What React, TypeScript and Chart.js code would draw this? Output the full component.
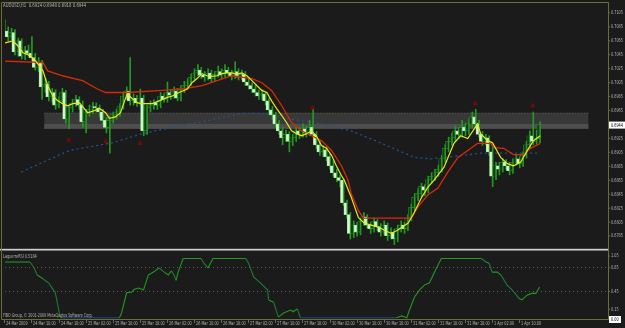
import { useEffect, useRef } from "react";
import { Chart, registerables } from "chart.js";

Chart.register(...registerables);

// ---------- DATA (prices in pips: 6944 = 0.6944) ----------
const opens = [
  7086, 7078, 7070, 7076, 7048, 7064, 7042, 7050, 7046, 7040, 7026, 7032, 6998, 7002, 6984, 6990,
  6972, 6978, 6990, 6952, 6968, 6975, 6980, 6972, 6948, 6962, 6966, 6970, 6968, 6962, 6950, 6940,
  6950, 6958, 6962, 6970, 6985, 6992, 6978, 6982, 6975, 6982, 6935, 6968, 6972, 6975, 6972, 6985,
  6980, 6990, 6986, 6992, 6982, 6995, 7000, 7005, 7012, 7018, 7022, 7015, 7012, 7018, 7010, 7016,
  7020, 7015, 7022, 7018, 7014, 7020, 7012, 7016, 7005, 7000, 6995, 6990, 6985, 6988, 6978, 6965,
  6958, 6945, 6935, 6925, 6930, 6920, 6925, 6935, 6930, 6938, 6932, 6940, 6930, 6915, 6905, 6908,
  6898, 6885, 6875, 6868, 6864, 6832, 6815, 6788, 6800, 6790, 6805, 6812, 6800, 6795, 6805, 6798,
  6790, 6800, 6785, 6790, 6780, 6795, 6800, 6795, 6810, 6825, 6840, 6845, 6855, 6850, 6865, 6870,
  6875, 6880, 6895, 6910, 6920, 6925, 6935, 6930, 6940, 6935, 6945, 6955, 6945, 6930, 6920, 6925,
  6905, 6870, 6885, 6880, 6890, 6885, 6878, 6890, 6895, 6888, 6900, 6915, 6928, 6920, 6924,
];
const highs = [
  7094, 7084, 7082, 7080, 7068, 7067, 7056, 7058, 7070, 7046, 7040, 7036, 7010, 7006, 6996, 6994,
  6984, 6996, 6993, 6972, 6980, 6986, 6984, 6978, 6966, 6972, 6976, 6975, 6972, 6966, 6954, 6956,
  6962, 6966, 6974, 6990, 6998, 7040, 6988, 6986, 6995, 6986, 6972, 6978, 6980, 6978, 6990, 6988,
  7005, 6994, 6998, 6996, 7000, 7006, 7010, 7016, 7024, 7030, 7026, 7020, 7024, 7022, 7020, 7028,
  7024, 7030, 7026, 7022, 7034, 7024, 7022, 7020, 7010, 7004, 7000, 6994, 6994, 6990, 6982, 6970,
  6962, 6950, 6940, 6936, 6934, 6930, 6942, 6940, 6945, 6942, 6950, 6966, 6934, 6920, 6914, 6912,
  6902, 6892, 6880, 6872, 6866, 6836, 6818, 6806, 6804, 6810, 6818, 6815, 6804, 6810, 6808, 6802,
  6806, 6803, 6796, 6794, 6800, 6806, 6804, 6815, 6830, 6845, 6852, 6860, 6858, 6870, 6875, 6880,
  6886, 6900, 6915, 6926, 6932, 6942, 6940, 6950, 6946, 6952, 6962, 6966, 6950, 6934, 6930, 6928,
  6915, 6890, 6890, 6895, 6894, 6890, 6895, 6900, 6898, 6905, 6920, 6935, 6962, 6936, 6948,
];
const lows = [
  7072, 7064, 7066, 7044, 7042, 7038, 7037, 7042, 7036, 7022, 7020, 6980, 6990, 6978, 6976, 6966,
  6968, 6974, 6946, 6938, 6962, 6970, 6966, 6940, 6932, 6956, 6960, 6962, 6955, 6944, 6932, 6903,
  6946, 6952, 6956, 6966, 6980, 6972, 6972, 6970, 6972, 6928, 6930, 6962, 6966, 6966, 6968, 6976,
  6976, 6980, 6982, 6978, 6978, 6990, 6995, 7000, 7008, 7014, 7010, 7006, 7008, 7004, 7006, 7012,
  7010, 7012, 7014, 7008, 7010, 7008, 7008, 7000, 6995, 6990, 6985, 6980, 6980, 6972, 6960, 6952,
  6940, 6930, 6915, 6920, 6905, 6914, 6920, 6924, 6926, 6926, 6928, 6926, 6910, 6900, 6898, 6892,
  6880, 6870, 6862, 6855, 6828, 6810, 6780, 6782, 6784, 6786, 6800, 6796, 6788, 6790, 6792, 6784,
  6786, 6778, 6780, 6772, 6776, 6790, 6788, 6792, 6806, 6820, 6835, 6840, 6842, 6846, 6860, 6864,
  6870, 6876, 6890, 6905, 6914, 6920, 6924, 6926, 6928, 6930, 6940, 6940, 6926, 6914, 6915, 6900,
  6855, 6865, 6872, 6876, 6880, 6872, 6874, 6886, 6882, 6884, 6896, 6910, 6915, 6916, 6918,
];
const closes = [
  7078, 7070, 7076, 7048, 7064, 7042, 7050, 7046, 7040, 7026, 7032, 6998, 7002, 6984, 6990, 6972,
  6978, 6990, 6952, 6968, 6975, 6980, 6972, 6948, 6962, 6966, 6970, 6968, 6962, 6950, 6940, 6950,
  6958, 6962, 6970, 6985, 6992, 6978, 6982, 6975, 6982, 6935, 6968, 6972, 6975, 6972, 6985, 6980,
  6990, 6986, 6992, 6982, 6995, 7000, 7005, 7012, 7018, 7022, 7015, 7012, 7018, 7010, 7016, 7020,
  7015, 7022, 7018, 7014, 7020, 7012, 7016, 7005, 7000, 6995, 6990, 6985, 6988, 6978, 6965, 6958,
  6945, 6935, 6925, 6930, 6920, 6925, 6935, 6930, 6938, 6932, 6940, 6930, 6915, 6905, 6908, 6898,
  6885, 6875, 6868, 6864, 6832, 6815, 6788, 6800, 6790, 6805, 6812, 6800, 6795, 6805, 6798, 6790,
  6800, 6785, 6790, 6780, 6795, 6800, 6795, 6810, 6825, 6840, 6845, 6855, 6850, 6865, 6870, 6875,
  6880, 6895, 6910, 6920, 6925, 6935, 6930, 6940, 6935, 6945, 6955, 6945, 6930, 6920, 6925, 6905,
  6870, 6885, 6880, 6890, 6885, 6878, 6890, 6895, 6888, 6900, 6915, 6928, 6920, 6924, 6944,
];

// fast MA (yellow), read as knots: bar index / price
const yellowBars = [0, 2.5, 4, 5.5, 7.5, 9.3, 11.4, 12.8, 14.3, 15.8, 17.2, 18.7, 20.2, 22.2, 24.6, 26.6, 28.1, 29.9, 31, 32.8, 34.3, 35.5, 36.3, 37.8, 39.3, 40.7, 43.7, 45.7, 48.1, 49.6, 51.6, 54, 55.4, 56.9, 58.4, 59.8, 61.3, 62.8, 64.2, 65.7, 67.2, 68.6, 70.1, 71.6, 73.1, 74.5, 76, 77.5, 78.9, 80.4, 81.9, 83.3, 84.8, 86.3, 87.7, 89.2, 90.7, 92.1, 93.6, 95.1, 96.6, 98, 99.5, 100.4, 102.4, 104.5, 106.2, 108.3, 110.4, 112.1, 114.2, 116.2, 119.2, 120.9, 123, 125, 126.8, 129.8, 132.7, 134.7, 136.8, 139.7, 140.6, 142.7, 144.1, 146.5, 148.5, 150.3, 152.4, 154.4, 156.2, 158.2];
const yellowVals = [7061, 7064, 7057, 7047, 7043, 7035, 7021, 7000, 6985, 6978, 6974, 6971, 6974, 6975, 6961, 6964, 6967, 6961, 6953, 6955, 6961, 6978, 6988, 6981, 6975, 6974, 6974, 6978, 6983, 6985, 6990, 6995, 7004, 7010, 7017, 7014, 7013, 7014, 7017, 7018, 7018, 7016, 7018, 7014, 7007, 7000, 6993, 6990, 6978, 6967, 6957, 6947, 6935, 6931, 6928, 6931, 6935, 6928, 6914, 6910, 6900, 6885, 6871, 6864, 6840, 6811, 6803, 6800, 6797, 6793, 6788, 6793, 6803, 6817, 6838, 6854, 6864, 6883, 6917, 6928, 6924, 6945, 6931, 6921, 6918, 6897, 6888, 6885, 6890, 6907, 6921, 6928];

// slow line (red)
const redBars = [0, 11.4, 12.8, 17.2, 23.1, 27.5, 29.9, 36.3, 46.6, 52.5, 58.4, 62.8, 67.2, 73.1, 76, 78.9, 81.9, 84.8, 87.7, 90.7, 93.6, 96.6, 99.5, 101.5, 102.4, 104.5, 106, 120.1, 122.1, 125, 128, 130.9, 133.9, 136.8, 139.7, 143.6, 144.4, 147.4, 150.3, 153.3, 155.3, 158.2];
const redVals = [7035, 7033, 7021, 7014, 7007, 6995, 6990, 6990, 6993, 6995, 7000, 7007, 7014, 7010, 7004, 6993, 6971, 6947, 6935, 6928, 6921, 6907, 6885, 6864, 6845, 6821, 6810, 6810, 6826, 6843, 6853, 6876, 6897, 6907, 6917, 6917, 6911, 6910, 6901, 6901, 6910, 6917];

// long MA (blue dotted)
const blueBars = [5, 11.4, 19.3, 32, 40.7, 54.5, 58.4, 70, 76, 82, 93.6, 102.4, 111, 121, 126, 135.6, 140.6, 158];
const blueVals = [6876, 6890, 6907, 6918, 6931, 6945, 6948, 6960, 6960, 6954, 6945, 6935, 6918, 6897, 6895, 6900, 6903, 6903];

// fractal arrows
const fractalBars = [19, 30, 40, 91, 139, 156];
const fractalVals = [6922, 6920, 6917, 6968, 6974, 6971];

// resistance zone
const zoneBars = [11.8, 172.4];
const zoneTop = 6961;
const zoneBottom = 6938;
const zoneStrip = 6945;

// Laguerre indicator knots
const lagBars = [0, 7.6, 8.8, 9.7, 11.1, 13.2, 14.1, 15, 15.5, 16.4, 17, 34, 34.6, 36.1, 37.5, 38.4, 39.6, 41.1, 42.5, 44, 45.7, 47.2, 48.4, 49.3, 50.1, 50.7, 51.3, 52.8, 58.1, 58.9, 60.1, 61.6, 71.3, 72.1, 73.6, 75.7, 77.7, 78, 79.5, 80.9, 82.4, 84.5, 85.3, 86.5, 87.4, 115.8, 117.3, 118.8, 119.6, 121.1, 122.6, 124, 125.5, 127, 129, 140.8, 142.2, 143.1, 144, 145.5, 146.6, 148.4, 149.9, 151.9, 152.8, 154.3, 155.7, 156.9, 158];
const lagVals = [0.94, 0.94, 0.84, 0.72, 0.67, 0.58, 0.5, 0.43, 0.3, 0.02, 0, 0, 0.08, 0.42, 0.43, 0.48, 0.5, 0.47, 0.72, 0.77, 0.84, 0.77, 0.72, 0.79, 0.72, 0.63, 0.77, 1, 1, 0.92, 0.84, 1, 1, 0.92, 0.69, 0.58, 0.47, 0.3, 0.26, 0.01, 0.08, 0.13, 0.1, 0.15, 0, 0, 0.03, 0, 0.13, 0.35, 0.47, 0.55, 0.59, 0.77, 1, 1, 0.94, 0.92, 0.77, 0.77, 0.72, 0.55, 0.47, 0.33, 0.3, 0.38, 0.41, 0.41, 0.52];
const lagLevels = [0.85, 0.45];

// axis texts
const timeLabels = [
  "24 Mar 2009", "24 Mar 10:00", "24 Mar 18:00", "25 Mar 02:00", "25 Mar 10:00", "25 Mar 18:00",
  "26 Mar 02:00", "26 Mar 10:00", "26 Mar 18:00", "27 Mar 02:00", "27 Mar 10:00", "27 Mar 18:00",
  "30 Mar 02:00", "30 Mar 10:00", "30 Mar 18:00", "31 Mar 02:00", "31 Mar 10:00", "31 Mar 18:00",
  "1 Apr 02:00", "1 Apr 10:00",
];
const barsPerLabel = 8;
const priceTicks = [7105, 7085, 7065, 7045, 7025, 7005, 6985, 6965, 6925, 6905, 6885, 6865, 6845, 6825, 6805, 6785];
const lastPrice = 6944;
const lagTicks = [1.05, 0.85, 0.45, 0.15];
const lagTickLabels = ["1.05", "0.85", "0.45", "0.15"];
const lagLastLabel = "0.00";
const titleText = "AUDUSD,H1  0.6924 0.6948 0.6918 0.6944";
const indicatorText = "LaguerreRSI 0.5184";
const copyrightText = "FIBO Group, \u00a9 2001-2009 MetaQuotes Software Corp.";

// ---------- STYLE ----------
const BG = "#1b1b1b";
const FRAME = "#6d6d3c";
const TEXT = "#b4b4b4";
const FONT = "DejaVu Sans";

const fmt = (p: number) => (p / 10000).toFixed(4);

function squeezeText(ctx: CanvasRenderingContext2D, s: string, x: number, y: number, size: number, sx: number, color: string) {
  ctx.save();
  ctx.translate(x, y);
  ctx.scale(sx, 1);
  ctx.font = `${size}px "${FONT}"`;
  ctx.fillStyle = color;
  ctx.textBaseline = "middle";
  ctx.fillText(s, 0, 0);
  ctx.restore();
}

const mt4Plugin = {
  id: "mt4",
  beforeDraw(chart: any) {
    const { ctx, width, height } = chart;
    ctx.save();
    ctx.fillStyle = BG;
    ctx.fillRect(0, 0, width, height);
    ctx.restore();
  },
  beforeDatasetsDraw(chart: any) {
    const { ctx } = chart;
    const x = chart.scales.x;
    const y = chart.scales.y;
    const x0 = x.getPixelForValue(zoneBars[0]);
    const x1 = x.getPixelForValue(zoneBars[1]);
    const yt = y.getPixelForValue(zoneTop);
    const yb = y.getPixelForValue(zoneBottom);
    const ys = y.getPixelForValue(zoneStrip);
    ctx.save();
    ctx.fillStyle = "#383838";
    ctx.fillRect(x0, yt, x1 - x0, yb - yt);
    ctx.fillStyle = "#4e4e4e";
    ctx.fillRect(x0, ys, x1 - x0, yb - ys);
    ctx.strokeStyle = "#5a5a50";
    ctx.setLineDash([1, 2]);
    ctx.beginPath();
    ctx.moveTo(x0, yt + 0.5);
    ctx.lineTo(x1, yt + 0.5);
    ctx.stroke();
    ctx.restore();
  },
  afterDatasetsDraw(chart: any) {
    const { ctx, chartArea } = chart;
    const x = chart.scales.x;
    const y = chart.scales.y;
    const y2 = chart.scales.y2;
    const right = chartArea.right;
    const bottom = chartArea.bottom;
    ctx.save();
    // panel separator
    const sepY = y.getPixelForValue(6766);
    ctx.fillStyle = BG;
    ctx.fillRect(0, sepY - 1, right, 3);
    ctx.fillStyle = "#cfcfcf";
    ctx.fillRect(0, sepY, right, 1.2);
    ctx.fillStyle = "#7a7a7a";
    ctx.fillRect(0, sepY + 1.2, right, 1);
    // indicator level lines
    ctx.strokeStyle = "#5c5c5c";
    ctx.setLineDash([1, 3]);
    ctx.lineWidth = 1;
    lagLevels.forEach((v) => {
      const py = Math.round(y2.getPixelForValue(v)) + 0.5;
      ctx.beginPath();
      ctx.moveTo(chartArea.left, py);
      ctx.lineTo(right, py);
      ctx.stroke();
    });
    ctx.setLineDash([]);
    // frame
    ctx.strokeStyle = FRAME;
    ctx.lineWidth = 1;
    ctx.beginPath();
    ctx.moveTo(1.5, 2.5);
    ctx.lineTo(right + 0.5, 2.5);
    ctx.lineTo(right + 0.5, bottom + 0.5);
    ctx.lineTo(1.5, bottom + 0.5);
    ctx.closePath();
    ctx.stroke();
    // price labels
    priceTicks.forEach((p) => {
      const py = y.getPixelForValue(p);
      ctx.fillStyle = FRAME;
      ctx.fillRect(right, py, 2, 1);
      squeezeText(ctx, fmt(p), right + 3, py + 0.5, 5.5, 0.62, TEXT);
    });
    // current price box
    const lp = y.getPixelForValue(lastPrice);
    ctx.fillStyle = "#ffffff";
    ctx.fillRect(right + 1, lp - 3, 16, 7);
    squeezeText(ctx, fmt(lastPrice), right + 3, lp + 0.5, 5.5, 0.62, "#000000");
    // indicator labels
    lagTicks.forEach((v, k) => {
      const py = y2.getPixelForValue(v);
      ctx.fillStyle = FRAME;
      ctx.fillRect(right, py, 2, 1);
      squeezeText(ctx, lagTickLabels[k], right + 3, py + 0.5, 5.5, 0.62, TEXT);
    });
    ctx.fillStyle = "#ffffff";
    ctx.fillRect(right + 1, bottom - 3, 12, 7);
    squeezeText(ctx, lagLastLabel, right + 3, bottom + 0.5, 5.5, 0.62, "#000000");
    // time labels
    timeLabels.forEach((t, k) => {
      const px = Math.round(x.getPixelForValue(k * barsPerLabel));
      ctx.fillStyle = FRAME;
      ctx.fillRect(px, bottom + 1, 1, 3);
      squeezeText(ctx, t, px + 2, bottom + 5, 5.5, 0.62, TEXT);
    });
    // texts
    squeezeText(ctx, titleText, 3, 6, 5.5, 0.7, TEXT);
    squeezeText(ctx, indicatorText, 3, sepY + 8, 5.5, 0.62, TEXT);
    squeezeText(ctx, copyrightText, 3, bottom - 3, 5.5, 0.6, TEXT);
    ctx.restore();
  },
};

export default function App() {
  const ref = useRef<HTMLCanvasElement | null>(null);
  useEffect(() => {
    if (!ref.current) return;
    const idx = closes.map((_, i) => i);
    const wickData = idx.map((i) => ({ x: i, y: [lows[i], highs[i]] }));
    const bodyData = idx.map((i) => ({ x: i, y: [opens[i], closes[i] === opens[i] ? closes[i] + 0.5 : closes[i]] }));
    const bodyFill = idx.map((i) => (closes[i] < opens[i] ? "#d6f5cf" : "#143a14"));
    const bodyBorder = idx.map((i) => (closes[i] < opens[i] ? "#9be09b" : "#2a9a2a"));
    const chart = new Chart(ref.current, {
      type: "bar",
      data: {
        datasets: [
          {
            type: "line",
            data: blueBars.map((b, i) => ({ x: b, y: blueVals[i] })),
            borderColor: "#1d5594",
            borderWidth: 1.3,
            borderDash: [2, 3],
            pointRadius: 0,
            yAxisID: "y",
            order: 5,
          } as any,
          {
            type: "bar",
            data: wickData,
            backgroundColor: "#229a22",
            barThickness: 1,
            yAxisID: "y",
            order: 4,
          } as any,
          {
            type: "bar",
            data: bodyData,
            backgroundColor: bodyFill,
            borderColor: bodyBorder,
            borderWidth: 0.6,
            borderSkipped: false,
            barThickness: 2.6,
            yAxisID: "y",
            order: 3,
          } as any,
          {
            type: "line",
            data: redBars.map((b, i) => ({ x: b, y: redVals[i] })),
            borderColor: "#d82a08",
            borderWidth: 1.3,
            pointRadius: 0,
            yAxisID: "y",
            order: 2,
          } as any,
          {
            type: "line",
            data: yellowBars.map((b, i) => ({ x: b, y: yellowVals[i] })),
            borderColor: "#e8e81a",
            borderWidth: 1.2,
            pointRadius: 0,
            yAxisID: "y",
            order: 1,
          } as any,
          {
            type: "scatter",
            data: fractalBars.map((b, i) => ({ x: b, y: fractalVals[i] })),
            pointStyle: "triangle",
            pointRadius: 2.3,
            backgroundColor: "#5e0808",
            borderColor: "#7a0c0c",
            borderWidth: 1,
            yAxisID: "y",
            order: 0,
          } as any,
          {
            type: "line",
            data: lagBars.map((b, i) => ({ x: b, y: lagVals[i] })),
            borderColor: "#1f9a1f",
            borderWidth: 1.1,
            pointRadius: 0,
            segment: {
              borderColor: (c: any) => (c.p0.parsed.y <= 0.001 && c.p1.parsed.y <= 0.001 ? "#1d4a8a" : c.p1.parsed.y < c.p0.parsed.y - 0.05 ? "#1f7a3a" : "#1f9a1f"),
            },
            yAxisID: "y2",
            order: 0,
          } as any,
        ],
      },
      options: {
        responsive: false,
        devicePixelRatio: 1,
        animation: false,
        events: [],
        layout: { padding: { left: 2, right: 17, top: 4, bottom: 9 } },
        plugins: { legend: { display: false }, tooltip: { enabled: false } },
        scales: {
          x: { type: "linear", min: 0.2, max: 178.2, display: false, offset: false },
          y: { type: "linear", min: 6665.4, max: 7115.4, display: false },
          y2: { type: "linear", min: -0.022, max: 5.28, display: false },
        },
      },
      plugins: [mt4Plugin],
    });
    return () => chart.destroy();
  }, []);
  return (
    <div style={{ position: "fixed", left: 0, top: 0, width: 625, height: 328, background: BG }}>
      <canvas ref={ref} width={625} height={328} style={{ display: "block", width: 625, height: 328 }} />
    </div>
  );
}
